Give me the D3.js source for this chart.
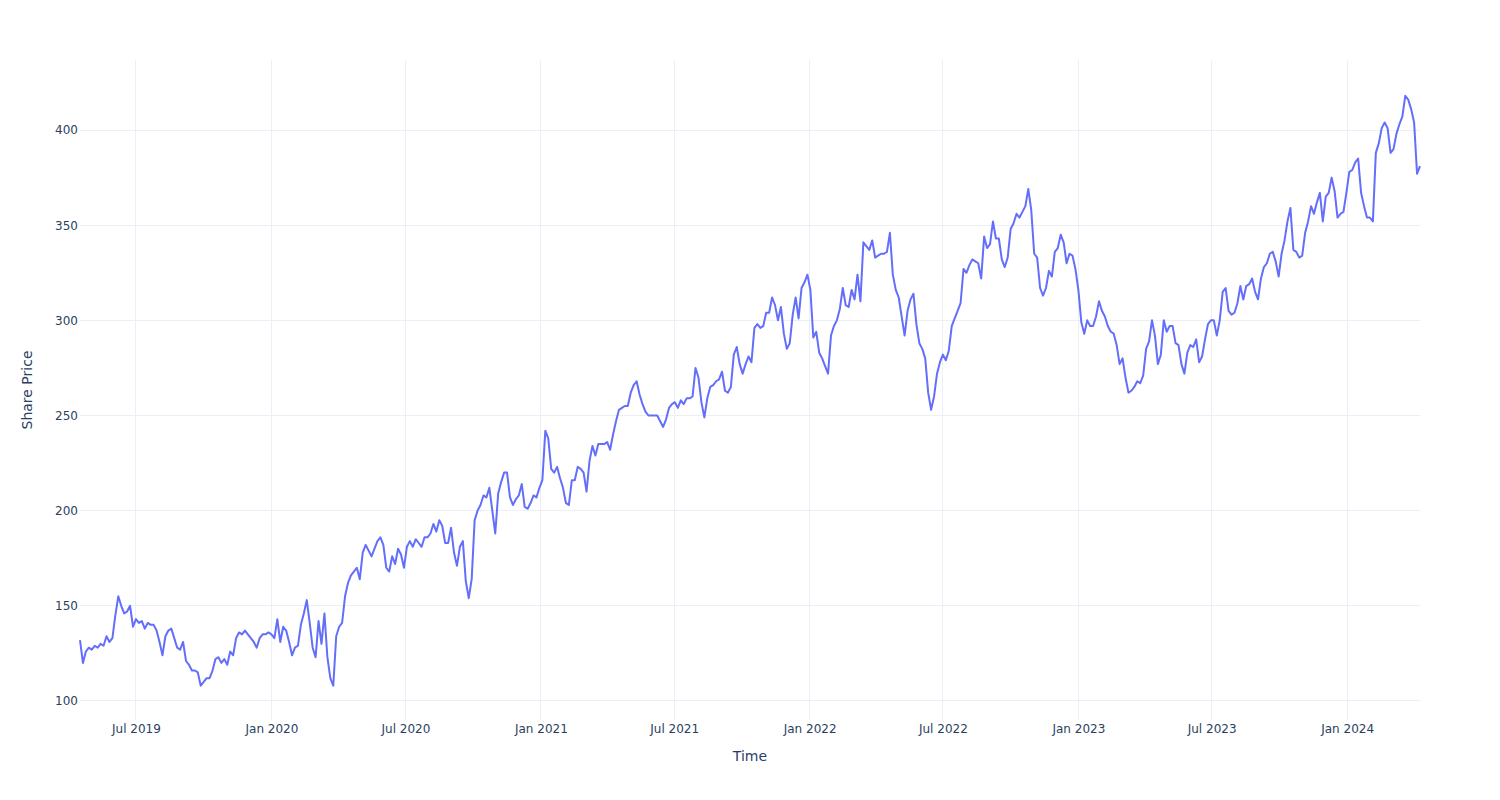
<!DOCTYPE html>
<html><head><meta charset="utf-8">
<script src="https://cdn.jsdelivr.net/npm/d3@7"></script>
<style>body{margin:0;background:#fff}svg{display:block}</style>
</head><body><svg id="c" width="1500" height="800"></svg>
<script>
// ---- data ----
const startDate = "2019-04-16";   // first observation
const stepDays = 4;               // one reading every 4 days
const prices = [
132,120,126,128,127,129,128,130,129,134,
131,133,145,155,150,146,147,150,139,143,
141,142,138,141,140,140,137,131,124,134,
137,138,133,128,127,131,121,119,116,116,
115,108,110,112,112,116,122,123,120,122,
119,126,124,133,136,135,137,135,133,131,
128,133,135,135,136,135,133,143,131,139,
137,131,124,128,129,140,146,153,141,128,
123,142,130,146,123,112,108,134,139,141,
155,162,166,168,170,164,178,182,179,176,
180,184,186,182,170,168,176,172,180,177,
170,181,184,181,185,183,181,186,186,188,
193,189,195,192,183,183,191,178,171,181,
184,163,154,164,195,200,203,208,207,212,
200,188,209,215,220,220,207,203,206,208,
214,202,201,204,208,207,212,216,242,238,
222,220,223,217,212,204,203,216,216,223,
222,220,210,226,234,229,235,235,235,236,
232,240,247,253,254,255,255,262,266,268,
261,256,252,250,250,250,250,247,244,248,
254,256,257,254,258,256,259,259,260,275,
270,257,249,259,265,266,268,269,273,263,
262,265,282,286,277,272,277,281,278,296,
298,296,297,304,304,312,308,300,307,293,
285,288,303,312,301,317,320,324,316,291,
294,283,280,276,272,292,297,300,306,317,
308,307,316,311,324,310,341,339,337,342,
333,334,335,335,336,346,324,316,312,302,
292,305,311,314,298,288,285,280,262,253,
260,272,278,282,279,284,297,301,305,309,
327,325,329,332,331,330,322,344,338,340,
352,343,343,332,328,333,348,351,356,354,
357,360,369,358,335,333,317,313,317,326,
323,336,338,345,341,330,335,334,327,316,
299,293,300,297,297,302,310,305,302,297,
294,293,287,277,280,270,262,263,265,268,
267,271,285,289,300,292,277,282,300,294,
297,297,288,287,277,272,283,287,286,290,
278,281,290,298,300,300,292,300,315,317,
305,303,304,309,318,311,318,319,322,315,
311,322,328,330,335,336,331,323,335,342,
352,359,337,336,333,334,346,352,360,356,
362,367,352,365,367,375,368,354,356,357,
367,378,379,383,385,367,360,354,354,352,
388,393,401,404,401,388,390,398,403,407,
418,416,411,404,377,381
];
const yTicks = [100,150,200,250,300,350,400];
const yDomain = [90, 436.8];
const xTitle = "Time";
const yTitle = "Share Price";

// ---- chart ----
const W = 1500, H = 800;
const M = {l:80, r:80, t:60, b:80};
const FONT = '"DejaVu Sans", Verdana, Arial, sans-serif';
const TXT = "#2a3f5f", GRID = "#ebf0f8", LINE = "#636efa";

const t0 = d3.timeParse("%Y-%m-%d")(startDate);
const data = prices.map((v,i)=>({date:d3.timeDay.offset(t0, i*stepDays), value:v}));

const svg = d3.select("#c");
svg.append("rect").attr("width",W).attr("height",H).attr("fill","#fff");

const x = d3.scaleTime().domain(d3.extent(data,d=>d.date)).range([M.l, W-M.r]);
const y = d3.scaleLinear().domain(yDomain).range([H-M.b, M.t]);

const xTicks = x.ticks(d3.timeMonth.every(6));
const fmt = d3.timeFormat("%b %Y");

// gridlines
const g = svg.append("g");
g.selectAll(".vg").data(xTicks).join("line")
  .attr("x1",d=>x(d)).attr("x2",d=>x(d))
  .attr("y1",M.t).attr("y2",H-M.b)
  .attr("stroke",GRID).attr("stroke-width",1).attr("shape-rendering","crispEdges");
g.selectAll(".hg").data(yTicks).join("line")
  .attr("x1",M.l).attr("x2",W-M.r)
  .attr("y1",d=>y(d)).attr("y2",d=>y(d))
  .attr("stroke",GRID).attr("stroke-width",1).attr("shape-rendering","crispEdges");

// axes (labels only, like plotly_white)
const xAxis = d3.axisBottom(x).tickValues(xTicks).tickFormat(fmt).tickSize(0).tickPadding(4);
const gx = svg.append("g").attr("transform",`translate(0,${H-M.b})`).call(xAxis);
gx.select(".domain").remove();
gx.selectAll("text").attr("fill",TXT).style("font-family",FONT).style("font-size","12px");

const yAxis = d3.axisLeft(y).tickValues(yTicks).tickFormat(d3.format("d")).tickSize(0).tickPadding(2);
const gy = svg.append("g").attr("transform",`translate(${M.l},0)`).call(yAxis);
gy.select(".domain").remove();
gy.selectAll("text").attr("fill",TXT).style("font-family",FONT).style("font-size","12px");

// line
const line = d3.line().x(d=>x(d.date)).y(d=>y(d.value));
svg.append("path").datum(data).attr("d",line)
  .attr("fill","none").attr("stroke",LINE).attr("stroke-width",2)
  .attr("stroke-linejoin","round");

// titles
svg.append("text").attr("x",(M.l+W-M.r)/2).attr("y",761)
  .attr("text-anchor","middle").attr("fill",TXT)
  .style("font-family",FONT).style("font-size","14px").text(xTitle);
svg.append("text").attr("transform",`translate(32,${(M.t+H-M.b)/2}) rotate(-90)`)
  .attr("text-anchor","middle").attr("fill",TXT)
  .style("font-family",FONT).style("font-size","14px").text(yTitle);
</script></body></html>
